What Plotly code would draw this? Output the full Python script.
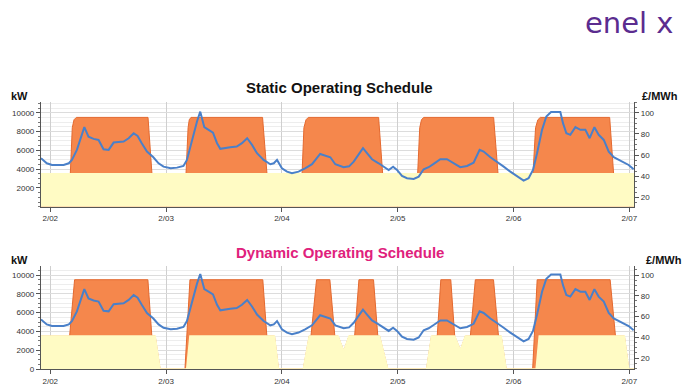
import plotly.graph_objects as go

# ---------------- data ----------------
day_ticks = [0, 1, 2, 3, 4, 5]
day_labels = ["2/02", "2/03", "2/04", "2/05", "2/06", "2/07"]
kw_ticks_top = [2000, 4000, 6000, 8000, 10000]
kw_ticks_bottom = [0, 2000, 4000, 6000, 8000, 10000]
price_ticks = [20, 40, 60, 80, 100]

# electricity price (GBP/MWh), time in days from 2/02
price_t = [-0.08, -0.03, 0.015, 0.115, 0.16, 0.187, 0.23, 0.294, 0.33, 0.374, 0.417, 0.46, 0.504,
           0.547, 0.633, 0.677, 0.72, 0.754, 0.79, 0.835, 0.89, 0.935, 0.978, 1.04, 1.094, 1.15,
           1.18, 1.224, 1.267, 1.295, 1.33, 1.367, 1.405, 1.44, 1.468, 1.554, 1.61, 1.655, 1.70,
           1.742, 1.785, 1.842, 1.90, 1.93, 1.958, 2.0, 2.044, 2.087, 2.144, 2.2, 2.26, 2.33,
           2.375, 2.418, 2.461, 2.533, 2.58, 2.62, 2.66, 2.70, 2.735, 2.778, 2.835, 2.878, 2.922,
           2.96, 2.994, 3.037, 3.08, 3.138, 3.181, 3.224, 3.267, 3.31, 3.368, 3.425, 3.483, 3.54,
           3.598, 3.655, 3.707, 3.742, 3.80, 3.857, 3.915, 3.972, 4.03, 4.087, 4.13, 4.168, 4.203,
           4.246, 4.283, 4.324, 4.404, 4.427, 4.456, 4.49, 4.534, 4.577, 4.62, 4.657, 4.698,
           4.735, 4.779, 4.822, 4.865, 4.937, 4.994, 5.037]
price_v = [57.2, 52.4, 50.8, 50.8, 52.4, 55.6, 65, 86.4, 77.5, 75.4, 74.4, 65.6, 65, 71.9, 72.8,
           76, 80.7, 78.2, 71.3, 63.4, 58.1, 52.4, 49.2, 47.7, 48.3, 49.9, 55.6, 74.4, 91.7, 101,
           86.4, 83.9, 81.3, 71.3, 66, 67.5, 68.1, 71.3, 76, 69.7, 61.9, 55.6, 51.5, 52.4, 55.6,
           47.7, 44.5, 43, 44.5, 47.7, 51.5, 61.2, 59.3, 58.1, 51.5, 48.7, 49.5, 54, 60.3, 66.6,
           61.9, 56.2, 52.4, 49.2, 46.1, 49.2, 46.1, 40.5, 38.3, 37.6, 39.8, 46.8, 48.7, 51.8,
           56.2, 56.2, 52.4, 48.7, 49.9, 53, 65, 63.4, 58.1, 54, 49.2, 44.5, 40.5, 36, 38.3, 46.1,
           61.9, 83.9, 96.4, 100.6, 100.6, 90.2, 80.7, 79.2, 86.4, 83.9, 83.9, 76, 86.4, 79.2,
           74.4, 63.4, 58.1, 54, 50.8, 46.8]

# static schedule: total load (kW) and baseline load (kW)
static_t = [-0.08, 0.173, 0.19, 0.205, 0.225, 0.844, 0.878,
            1.172, 1.19, 1.20, 1.215, 1.833, 1.871,
            2.174, 2.19, 2.208, 2.228, 2.835, 2.870,
            3.172, 3.19, 3.205, 3.224, 3.828, 3.866,
            4.168, 4.19, 4.21, 4.231, 4.830, 4.864, 5.04]
static_kw = [3500, 3500, 8400, 9250, 9500, 9500, 3500,
             3500, 8400, 9250, 9500, 9500, 3500,
             3500, 8400, 9250, 9500, 9500, 3500,
             3500, 8400, 9250, 9500, 9500, 3500,
             3500, 8400, 9250, 9500, 9500, 3500, 3500]
static_base_t = [-0.08, 5.04]
static_base_kw = [3500, 3500]

# dynamic schedule: total load (kW) and baseline load (kW)
dyn_t = [-0.08, 0.167, 0.21, 0.843, 0.877, 0.906, 0.948,
         1.163, 1.206, 1.835, 1.870, 1.936, 1.970,
         2.185, 2.236, 2.251, 2.299, 2.414, 2.457, 2.485, 2.534, 2.579, 2.628, 2.665, 2.791,
         2.828, 2.843, 2.914,
         3.249, 3.292, 3.341, 3.372, 3.458, 3.492, 3.541, 3.584, 3.627, 3.670, 3.827, 3.870,
         3.893, 3.936,
         4.165, 4.204, 4.834, 4.880, 4.957, 4.994, 5.04]
dyn_kw = [3500, 3500, 9500, 9500, 3500, 3500, 0,
          0, 9500, 9500, 3500, 3500, 0,
          0, 3500, 3500, 9500, 9500, 3500, 3500, 1900, 3500, 3500, 9500, 9500,
          3500, 3500, 0,
          0, 3500, 3500, 9500, 9500, 3500, 2000, 3500, 3500, 9500, 9500, 3500,
          3500, 0,
          0, 9500, 9500, 3500, 3500, 0, 0]
dyn_base_t = [-0.08, 0.906, 0.948, 1.178, 1.206, 1.936, 1.970,
              2.185, 2.236, 2.485, 2.534, 2.579, 2.843, 2.914,
              3.249, 3.292, 3.492, 3.541, 3.584, 3.893, 3.936,
              4.195, 4.222, 4.957, 4.994, 5.04]
dyn_base_kw = [3500, 3500, 0, 0, 3500, 3500, 0,
               0, 3500, 3500, 1900, 3500, 3500, 0,
               0, 3500, 3500, 2000, 3500, 3500, 0,
               0, 3500, 3500, 0, 0]

# ---------------- style ----------------
ORANGE = "#f5874c"
ORANGE_EDGE = "#e4692f"
YELLOW = "#fffbc4"
BLUE = "#4a80c9"
FONT = "Liberation Sans, Arial, sans-serif"

fig = go.Figure()

def add_panel(t, kw, bt, bkw, xa, ya, ya2):
    fig.add_trace(go.Scatter(x=t, y=kw, xaxis=xa, yaxis=ya, mode="lines", fill="tozeroy",
                             fillcolor=ORANGE, line=dict(color=ORANGE_EDGE, width=1),
                             hoverinfo="skip", showlegend=False))
    fig.add_trace(go.Scatter(x=bt, y=bkw, xaxis=xa, yaxis=ya, mode="lines", fill="tozeroy",
                             fillcolor=YELLOW, line=dict(color=YELLOW, width=1.5),
                             hoverinfo="skip", showlegend=False))
    fig.add_trace(go.Scatter(x=price_t, y=price_v, xaxis=xa, yaxis=ya2, mode="lines",
                             line=dict(color=BLUE, width=2), showlegend=False))

add_panel(static_t, static_kw, static_base_t, static_base_kw, "x", "y", "y2")
add_panel(dyn_t, dyn_kw, dyn_base_t, dyn_base_kw, "x2", "y3", "y4")

W, H = 696, 385
xdom = [41 / W, 634 / W]
top_dom = [1 - 206.7 / H, 1 - 101.7 / H]
bot_dom = [1 - 369 / H, 1 - 266 / H]

tickfont = dict(family=FONT, size=8, color="#333333")

def xaxis_cfg(anchor):
    return dict(domain=xdom, anchor=anchor, range=[-0.08, 5.04], tickvals=day_ticks,
                ticktext=day_labels, showline=True, linecolor="#555555", linewidth=1.2,
                ticks="outside", ticklen=4, tickcolor="#555555", showgrid=True,
                gridcolor="#cfcfcf", gridwidth=1, zeroline=False, tickfont=tickfont,
                automargin=False)

def yleft_cfg(dom, rng, tv, anchor):
    return dict(domain=dom, anchor=anchor, range=rng, tickvals=tv, tickformat="d",
                showline=True, linecolor="#555555", linewidth=1.2, ticks="outside", ticklen=4,
                tickcolor="#555555", showgrid=True, gridcolor="#dcdcdc", zeroline=False,
                tickfont=tickfont, automargin=False,
                minor=dict(dtick=500, ticks="outside", ticklen=2, tickcolor="#777777",
                           showgrid=True, gridcolor="#ededed"))

def yright_cfg(overlay, rng, anchor):
    return dict(overlaying=overlay, side="right", anchor=anchor, range=rng, tickvals=price_ticks,
                showline=True, linecolor="#555555", linewidth=1.2, ticks="outside", ticklen=4,
                tickcolor="#555555", showgrid=False, zeroline=False, tickfont=tickfont,
                automargin=False,
                minor=dict(dtick=5, ticks="outside", ticklen=2, tickcolor="#777777"))

fig.update_layout(
    width=W, height=H, margin=dict(l=0, r=0, t=0, b=0, autoexpand=False),
    paper_bgcolor="white", plot_bgcolor="white",
    xaxis=xaxis_cfg("y"),
    xaxis2=xaxis_cfg("y3"),
    yaxis=yleft_cfg(top_dom, [0, 11170], kw_ticks_top, "x"),
    yaxis2=yright_cfg("y", [11.5, 110.4], "x"),
    yaxis3=yleft_cfg(bot_dom, [0, 10960], kw_ticks_bottom, "x2"),
    yaxis4=yright_cfg("y3", [9.4, 108.7], "x2"),
)

def ann(text, x, y, size, color="#111111", bold=True, family=FONT):
    fig.add_annotation(text=f"<b>{text}</b>" if bold else text, x=x / W, y=1 - y / H,
                       xref="paper", yref="paper", showarrow=False,
                       xanchor="center", yanchor="middle",
                       font=dict(family=family, size=size, color=color))

ann("Static Operating Schedule", 339, 88, 15)
ann("Dynamic Operating Schedule", 340, 252, 15, color="#e0217c")
ann("kW", 19, 96, 11)
ann("kW", 19, 260, 11)
ann("£/MWh", 660, 96, 11)
ann("£/MWh", 664, 260, 11)
ann("enel x", 629, 23, 29, color="#5b2c8f", bold=False, family="DejaVu Sans, sans-serif")

fig.write_html("out.html", config={"displayModeBar": False},
               post_script="document.body.style.margin='0';")
